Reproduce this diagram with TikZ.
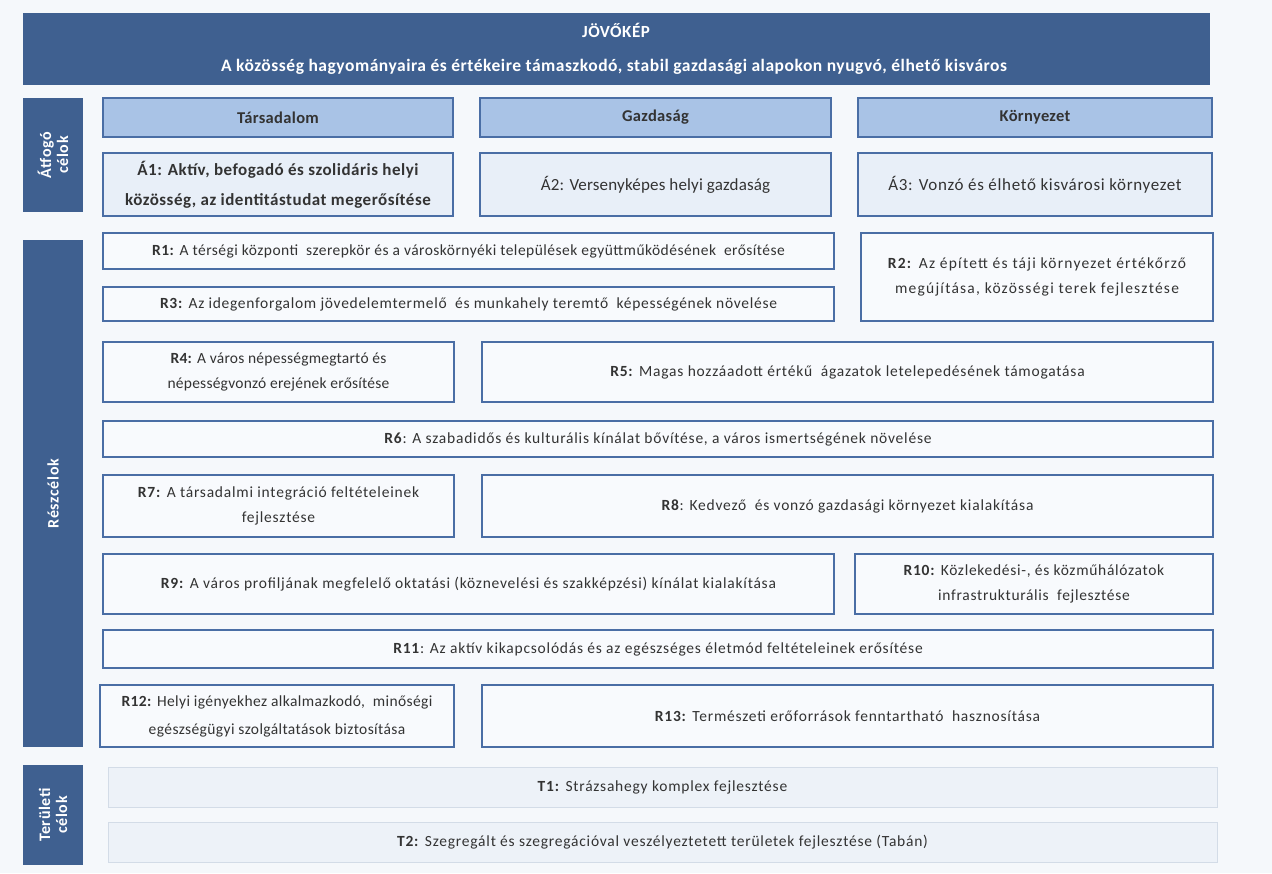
\documentclass[tikz,border=0pt]{standalone}
\usepackage{fontspec}
\setmainfont{Carlito}
\definecolor{bg}{HTML}{F5F8FB}
\definecolor{dark}{HTML}{3F6090}
\definecolor{edge}{HTML}{4A6EA5}
\definecolor{hdrfill}{HTML}{A9C3E6}
\definecolor{afill}{HTML}{E8EFF8}
\definecolor{rfill}{HTML}{F8FAFD}
\definecolor{tfill}{HTML}{EDF2F8}
\definecolor{tedge}{HTML}{D3DCE7}
\definecolor{txt}{HTML}{333333}
\tikzset{
  base/.style={rectangle, inner sep=0pt, align=center, text=txt},
  banner/.style={base, fill=dark, draw=none},
  bantext/.style={inner sep=0pt, text=white, font=\bfseries\fontsize{#1}{20}\selectfont\addfontfeature{LetterSpace=3}},
  side/.style={base, fill=dark, text=white, font=\bfseries\fontsize{16}{17}\selectfont\addfontfeature{LetterSpace=4}, rotate=90},
  hdr/.style={base, fill=hdrfill, draw=edge, line width=2pt, font=\bfseries\fontsize{16.5}{18}\selectfont\addfontfeature{LetterSpace=2}},
  abox/.style={base, fill=afill, draw=edge, line width=2pt, font=\fontsize{17}{30}\selectfont\addfontfeature{LetterSpace=#1}},
  abox/.default=0,
  abold/.style={base, fill=afill, draw=edge, line width=2pt, font=\bfseries\fontsize{17}{30}\selectfont\addfontfeature{LetterSpace=#1}},
  rbox/.style={base, fill=rfill, draw=edge, line width=2.2pt, font=\fontsize{15.5}{25}\selectfont\addfontfeature{LetterSpace=#1}},
  rbox/.default=5,
  tbox/.style={base, fill=tfill, draw=tedge, line width=0.8pt, font=\fontsize{15.5}{25}\selectfont\addfontfeature{LetterSpace=5}},
}
\newcommand\bx[7]{\node[#6, minimum width={#4-#2}, minimum height={#5-#3}] (#1) at ({(#2+#4)/2},{(#3+#5)/2}) {#7};}
\newcommand\sbx[7]{\node[#6, minimum width={#5-#3}, minimum height={#4-#2}] (#1) at ({(#2+#4)/2},{(#3+#5)/2}) {#7};}
\begin{document}
\begin{tikzpicture}[x=1pt,y=-1pt]
\fill[bg] (0,0) rectangle (1272,873);
\useasboundingbox (0,0) rectangle (1272,873);
% banner
\bx{ban}{23}{13}{1210}{85}{banner}{}
\node[bantext=17] (jk) at (616,30) {JÖVŐKÉP};
\node[bantext=17.5] (sub) at (614,67) {A közösség hagyományaira és értékeire támaszkodó, stabil gazdasági alapokon nyugvó, élhető kisváros};
% side labels
\sbx{s1}{23}{98}{83}{212}{side}{Átfogó\\célok}
\sbx{s2}{23}{240}{83}{747}{side}{Részcélok}
\sbx{s3}{23}{765}{83}{865}{side}{Területi\\célok}
% headers
\bx{h1}{103}{98}{453}{137}{hdr}{Társadalom}
\bx{h2}{480}{98}{831}{137}{hdr}{Gazdaság}
\bx{h3}{858}{98}{1212}{137}{hdr}{Környezet}
% A boxes
\bx{a1}{103}{153}{453}{216}{abold=3}{Á1: Aktív, befogadó és szolidáris helyi\\közösség, az identitástudat megerősítése}
\bx{a2}{480}{153}{831}{216}{abox=1}{Á2: Versenyképes helyi gazdaság}
\bx{a3}{858}{153}{1212}{216}{abox=4}{Á3: Vonzó és élhető kisvárosi környezet}
% R boxes
\bx{r1}{103}{233}{834}{269}{rbox=3}{\textbf{R1:} A térségi központi\ \ szerepkör és a városkörnyéki települések együttműködésének\ \ erősítése}
\bx{r3}{103}{287}{834}{321}{rbox=4.5}{\textbf{R3:} Az idegenforgalom jövedelemtermelő\ \ és munkahely teremtő\ \ képességének növelése}
\bx{r2}{861}{233}{1213}{321}{rbox=8}{\textbf{R2:} Az épített és táji környezet értékőrző\\megújítása, közösségi terek fejlesztése}
\bx{r4}{103}{342}{454}{402}{rbox=1.5}{\textbf{R4:} A város népességmegtartó és\\népességvonzó erejének erősítése}
\bx{r5}{482}{342}{1213}{402}{rbox}{\textbf{R5:} Magas hozzáadott értékű\ \ ágazatok letelepedésének\ támogatása}
\bx{r6}{103}{421}{1213}{457}{rbox}{\textbf{R6}: A szabadidős és kulturális kínálat bővítése, a város ismertségének növelése}
\bx{r7}{103}{475}{454}{537}{rbox}{\textbf{R7:} A társadalmi integráció feltételeinek\\fejlesztése}
\bx{r8}{482}{475}{1213}{537}{rbox}{\textbf{R8}: Kedvező\ \ és vonzó gazdasági környezet kialakítása}
\bx{r9}{103}{554}{834}{614}{rbox}{\textbf{R9:} A város profiljának megfelelő oktatási (köznevelési és szakképzési) kínálat kialakítása}
\bx{r10}{855}{554}{1213}{614}{rbox=4.5}{\textbf{R10:} Közlekedési-, és közműhálózatok\\infrastrukturális\ \ fejlesztése}
\bx{r11}{103}{630}{1213}{668}{rbox}{\textbf{R11}: Az aktív kikapcsolódás és az egészséges életmód feltételeinek erősítése}
\bx{r12}{100}{685}{454}{747}{rbox=2.5, font=\fontsize{15.5}{28}\selectfont\addfontfeature{LetterSpace=2.5}}{\textbf{R12:} Helyi igényekhez alkalmazkodó,\ \ minőségi\\egészségügyi szolgáltatások biztosítása}
\bx{r13}{482}{685}{1213}{747}{rbox}{\textbf{R13:} Természeti erőforrások fenntartható\ \ hasznosítása}
% T boxes
\bx{t1}{108}{767}{1217}{807}{tbox}{\textbf{T1:} Strázsahegy komplex fejlesztése}
\bx{t2}{108}{822}{1217}{862}{tbox}{\textbf{T2:} Szegregált és szegregációval veszélyeztetett területek\ fejlesztése (Tabán)}
\end{tikzpicture}
\end{document}
